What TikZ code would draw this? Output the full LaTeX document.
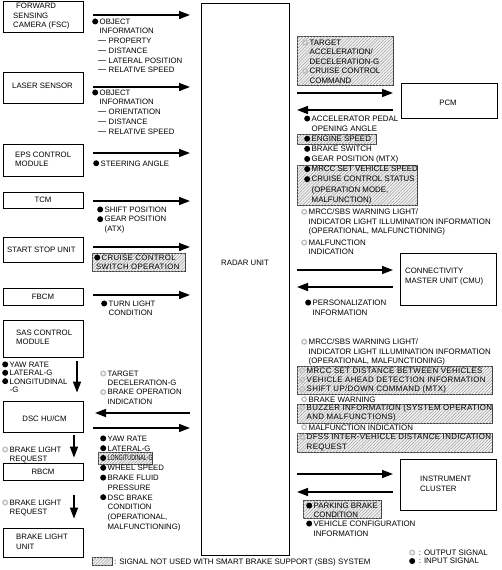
\documentclass[tikz,border=0pt]{standalone}
\usepackage{fontspec}
\setmainfont{Liberation Sans}
\newfontfamily\hatchfam{Liberation Sans}[LetterSpace=4.5]
\usetikzlibrary{arrows.meta,patterns.meta}
\newcommand\inb{\tikz[baseline=0pt]{\useasboundingbox (0pt,0pt) rectangle (7.5pt,0.5pt);\fill[black] (3pt,2.8pt) circle (3pt);}}
\newcommand\outs{\tikz[baseline=0pt]{\useasboundingbox (0pt,0pt) rectangle (7.5pt,0.5pt);\draw[gray!50,line width=1.4pt] (3pt,2.8pt) circle (2.3pt);}}
\newcommand\ind{\hspace*{7.5pt}}
\newcommand\dsh{\hspace*{6pt}{\color{black!60}\rule[2.6pt]{8pt}{0.7pt}}\hspace*{2.5pt}}
\begin{document}
\begin{tikzpicture}[x=1pt,y=-1pt,
  lbl/.style={anchor=north west, yshift=3.37pt, inner sep=0pt, align=left, execute at begin node={\rule{0pt}{6.2pt}}},
  lf/.style={font=\fontsize{7.8}{9.7}\selectfont},
  rf/.style={font=\fontsize{7.9}{9.65}\selectfont},
  box/.style={draw, line width=0.8pt, inner sep=0pt, font=\fontsize{7.8}{9.5}\selectfont},
  boxt/.style={anchor=west, inner sep=0pt, align=left, font=\fontsize{7.8}{9.5}\selectfont},
  arr/.style={line width=1.5pt, -{Triangle[length=11pt,width=8pt]}},
  hatch/.style={draw=black!75, line width=0.4pt, fill=gray!10, postaction={pattern color=gray!80, pattern={Lines[angle=45,distance=2.2pt,line width=0.45pt]}}}
]
\useasboundingbox (0,0) rectangle (501,570);

% ---------- boxes ----------
\node[box, minimum width=80pt, minimum height=31pt] (fsc) at (43,16.5) {};
\node[box, minimum width=80pt, minimum height=31pt] (laser) at (43,87.5) {};
\node[box, minimum width=80pt, minimum height=32pt] (eps) at (43,160) {};
\node[box, minimum width=80pt, minimum height=16pt] (tcm) at (43,200) {TCM};
\node[box, minimum width=80pt, minimum height=25pt] (ss) at (43,249.5) {};
\node[box, minimum width=80pt, minimum height=17pt] (fbcm) at (43,296.5) {FBCM};
\node[box, minimum width=80pt, minimum height=37pt] (sas) at (43,338.5) {};
\node[box, minimum width=80pt, minimum height=31pt] (dsc) at (43,416.5) {};
\node[box, minimum width=80pt, minimum height=17pt] (rbcm) at (43,471.5) {RBCM};
\node[box, minimum width=80pt, minimum height=29pt] (blu) at (43,542.5) {};
\node[box, minimum width=88pt, minimum height=552pt] (radar) at (245,279) {};
\node[box, minimum width=96pt, minimum height=35pt] (pcm) at (449,100.5) {};
\node[box, minimum width=96pt, minimum height=52pt] (cmu) at (448,279) {};
\node[box, minimum width=96pt, minimum height=51pt] (ic) at (448,484.5) {};

\node[boxt] (fsct) at (13,16.5) {\hspace*{3pt}FORWARD\\SENSING\\CAMERA (FSC)};
\node[boxt] (lasert) at (12,86) {LASER SENSOR};
\node[boxt] (epst) at (15,159.5) {EPS CONTROL\\MODULE};
\node[boxt] (sst) at (7,250) {START STOP UNIT};
\node[boxt] (sast) at (16,337.5) {SAS CONTROL\\MODULE};
\node[box, draw=none] (dsct) at (44.5,419) {DSC HU/CM};
\node[boxt] (blut) at (16,542) {BRAKE LIGHT\\UNIT};
\node[box, draw=none] (radart) at (245,263) {RADAR UNIT};
\node[box, draw=none] (pcmt) at (448,103) {PCM};
\node[boxt] (cmut) at (405,276.5) {CONNECTIVITY\\MASTER UNIT (CMU)};
\node[boxt] (ict) at (420,484) {INSTRUMENT\\CLUSTER};

% ---------- hatched areas ----------
\path[hatch] (92,253) rectangle (185,271);
\path[hatch] (98,452.5) rectangle (152,464.5);
\path[hatch] (297,36) rectangle (393,85);
\path[hatch] (297,134) rectangle (376,144.5);
\path[hatch] (297,165) rectangle (417,205);
\path[hatch] (297,366) rectangle (492,394);
\path[hatch] (297,404) rectangle (492,423);
\path[hatch] (297,433) rectangle (492,452);
\path[hatch] (303,500) rectangle (381,518);
\path[hatch] (92,557) rectangle (112,565);

% ---------- arrows ----------
\coordinate (la1) at (93,15);  \coordinate (lb1) at (190,15);
\coordinate (la2) at (93,87);  \coordinate (lb2) at (190,87);
\coordinate (la3) at (93,153); \coordinate (lb3) at (190,153);
\coordinate (la4) at (93,201); \coordinate (lb4) at (190,201);
\coordinate (la5) at (93,247); \coordinate (lb5) at (190,247);
\coordinate (la6) at (93,295); \coordinate (lb6) at (190,295);
\coordinate (lc7) at (190,413); \coordinate (ld7) at (95,413);
\coordinate (la8) at (93,428); \coordinate (lb8) at (190,428);
\foreach \i in {1,...,6,8} \draw[arr] (la\i) -- (lb\i);
\draw[arr] (lc7) -- (ld7);

\coordinate (ra1) at (297,93);  \coordinate (rb1) at (393,93);
\coordinate (rc1) at (393,110); \coordinate (rd1) at (297,110);
\coordinate (ra2) at (297,270); \coordinate (rb2) at (393,270);
\coordinate (rc2) at (393,287); \coordinate (rd2) at (297,287);
\coordinate (ra3) at (297,474); \coordinate (rb3) at (393,474);
\coordinate (rc3) at (393,492); \coordinate (rd3) at (297,492);
\foreach \i in {1,2,3} {\draw[arr] (ra\i) -- (rb\i); \draw[arr] (rc\i) -- (rd\i);}

\draw[arr, shorten <=4pt, shorten >=8pt] ([xshift=34pt]sas.south) -- ([xshift=34pt]dsc.north);
\draw[arr, shorten <=3pt, shorten >=5pt] ([xshift=31pt]dsc.south) -- ([xshift=31pt]rbcm.north);
\draw[arr, shorten <=15pt, shorten >=9pt] ([xshift=31pt]rbcm.south) -- ([xshift=31pt]blu.north);

% ---------- left labels ----------
\node[lbl, lf] (fscs) at (92,22) {\inb OBJECT\\\ind INFORMATION\\\dsh PROPERTY\\\dsh DISTANCE\\\dsh LATERAL POSITION\\\dsh RELATIVE SPEED};
\node[lbl, lf] (lasers) at (92,93) {\inb OBJECT\\\ind INFORMATION\\\dsh ORIENTATION\\\dsh DISTANCE\\\dsh RELATIVE SPEED};
\node[lbl, lf] (epss) at (93,163) {\inb STEERING ANGLE};
\node[lbl, lf] (tcms) at (97,210) {\inb SHIFT POSITION\\\inb GEAR POSITION\\\ind (ATX)};
\node[lbl, font=\hatchfam\fontsize{7.8}{9}\selectfont] (sss) at (94,258) {\inb CRUISE CONTROL\\\hspace*{2pt}SWITCH OPERATION};
\node[lbl, lf] (fbcms) at (101,304) {\inb TURN LIGHT\\\ind CONDITION};
\node[lbl, font=\fontsize{7.8}{8.4}\selectfont] (sass) at (2,365) {\inb YAW RATE\\\inb LATERAL-G\\\inb LONGITUDINAL\\\ind -G};
\node[lbl, font=\fontsize{7.8}{9.3}\selectfont] (dscin) at (100,374) {\outs TARGET\\\ind DECELERATION-G\\\outs BRAKE OPERATION\\\ind INDICATION};
\node[lbl, font=\fontsize{7.8}{9.8}\selectfont] (dscout) at (100,439) {\inb YAW RATE\\\inb LATERAL-G\\\inb \scalebox{0.68}[1]{LONGITUDINAL-G}\\\inb WHEEL SPEED\\\inb BRAKE FLUID\\\ind PRESSURE\\\inb DSC BRAKE\\\ind CONDITION\\\ind (OPERATIONAL,\\\ind MALFUNCTIONING)};
\node[lbl, font=\fontsize{7.8}{9.6}\selectfont] (blr1) at (2,450) {\outs BRAKE LIGHT\\\ind REQUEST};
\node[lbl, font=\fontsize{7.8}{9.6}\selectfont] (blr2) at (2,503) {\outs BRAKE LIGHT\\\ind REQUEST};

% ---------- right labels ----------
\node[lbl, font=\fontsize{7.9}{9.5}\selectfont] (r1) at (302,43) {\outs TARGET\\\ind ACCELERATION/\\\ind DECELERATION-G\\\outs CRUISE CONTROL\\\ind COMMAND};
\node[lbl, font=\fontsize{7.9}{10.1}\selectfont] (r2) at (304,119) {\inb ACCELERATOR PEDAL\\\ind OPENING ANGLE\\\inb ENGINE SPEED\\\inb BRAKE SWITCH\\\inb GEAR POSITION (MTX)\\\inb MRCC SET VEHICLE SPEED\\\inb CRUISE CONTROL STATUS\\\ind (OPERATION MODE,\\\ind MALFUNCTION)};
\node[lbl, rf] (r3a) at (301,212) {\outs MRCC/SBS WARNING LIGHT/\\\ind INDICATOR LIGHT ILLUMINATION INFORMATION\\\ind (OPERATIONAL, MALFUNCTIONING)};
\node[lbl, rf] (r3b) at (301,243) {\outs MALFUNCTION\\\ind INDICATION};
\node[lbl, rf] (r4) at (305,303) {\inb PERSONALIZATION\\\ind INFORMATION};
\node[lbl, rf] (r5) at (301,342) {\outs MRCC/SBS WARNING LIGHT/\\\ind INDICATOR LIGHT ILLUMINATION INFORMATION\\\ind (OPERATIONAL, MALFUNCTIONING)};
\node[lbl, font=\hatchfam\fontsize{7.9}{9.3}\selectfont] (r6) at (299,371) {\outs MRCC SET DISTANCE BETWEEN VEHICLES\\\outs VEHICLE AHEAD DETECTION INFORMATION\\\outs SHIFT UP/DOWN COMMAND (MTX)};
\node[lbl, rf] (r7) at (301,399) {\outs BRAKE WARNING};
\node[lbl, font=\hatchfam\fontsize{7.9}{9.3}\selectfont] (r8) at (299,408) {\outs BUZZER INFORMATION (SYSTEM OPERATION\\\ind AND MALFUNCTIONS)};
\node[lbl, rf] (r9) at (301,427) {\outs MALFUNCTION INDICATION};
\node[lbl, font=\hatchfam\fontsize{7.9}{10}\selectfont] (r10) at (299,437.5) {\outs DFSS INTER-VEHICLE DISTANCE INDICATION\\\ind REQUEST};
\node[lbl, font=\fontsize{7.9}{9}\selectfont] (r11) at (306,506) {\inb PARKING BRAKE\\\ind CONDITION};
\node[lbl, rf] (r12) at (306,524) {\inb VEHICLE CONFIGURATION\\\ind INFORMATION};

% ---------- legend ----------
\node[lbl, rf] (lg1) at (114,561) {: SIGNAL NOT USED WITH SMART BRAKE SUPPORT (SBS) SYSTEM};
\node[lbl, font=\fontsize{7.9}{8.5}\selectfont] (lg2) at (409,553) {\outs\ : OUTPUT SIGNAL\\\inb\ : INPUT SIGNAL};
\end{tikzpicture}
\end{document}
